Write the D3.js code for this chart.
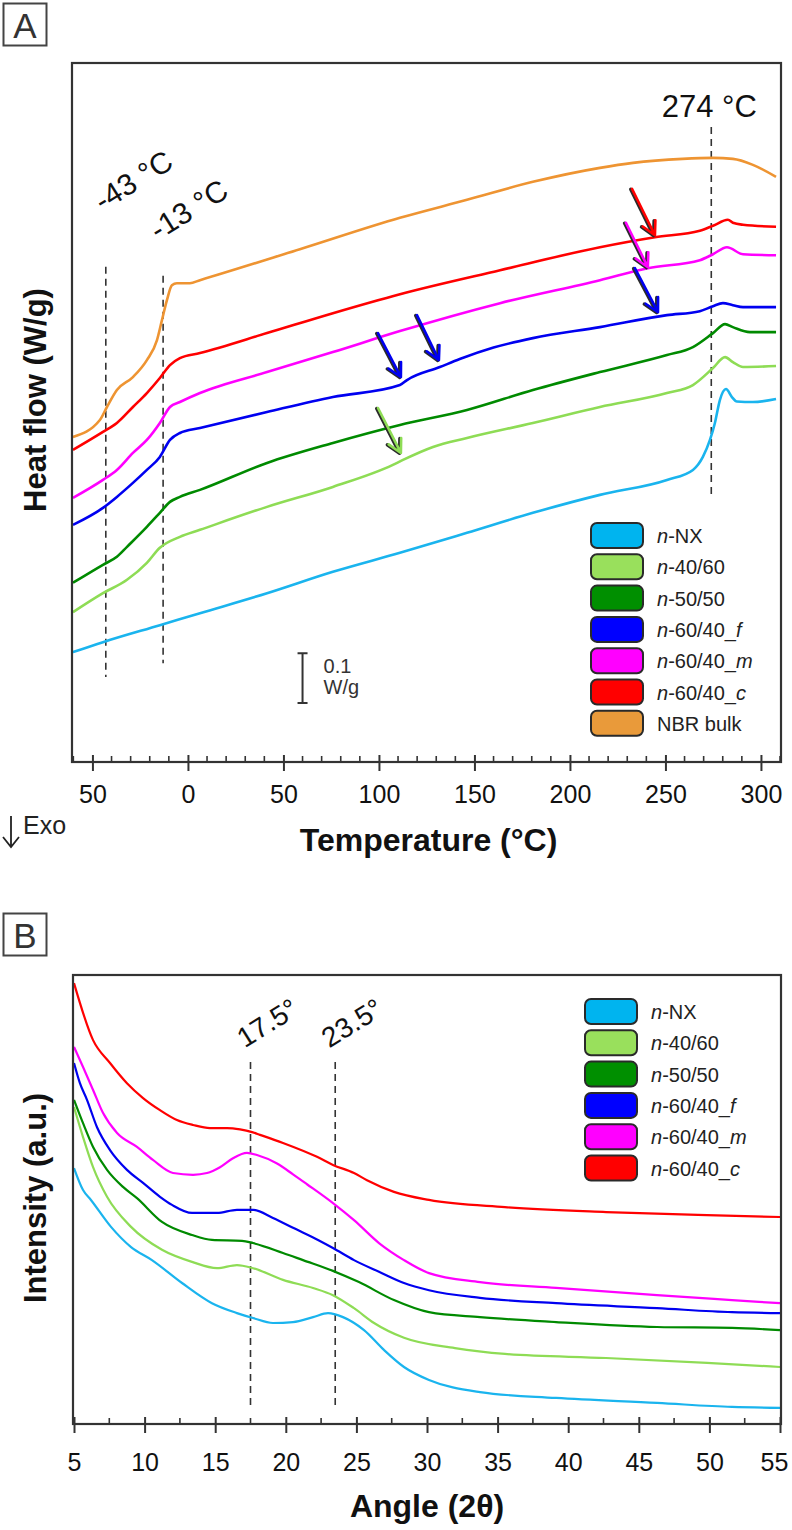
<!DOCTYPE html>
<html><head><meta charset="utf-8">
<script src="https://cdn.jsdelivr.net/npm/d3@7/dist/d3.min.js"></script>
<style>
body{margin:0;background:#fff}
svg{display:block}
text{font-family:"Liberation Sans",Arial,Helvetica,sans-serif}
</style>
</head><body>
<svg id="c" width="792" height="1530"></svg>
<script>
// ---------------- DATA ----------------
const seriesNamesA = ["n-NX","n-40/60","n-50/50","n-60/40_f","n-60/40_m","n-60/40_c","NBR bulk"];
const seriesNamesB = ["n-NX","n-40/60","n-50/50","n-60/40_f","n-60/40_m","n-60/40_c"];
const lineColors  = ["#1ab4ee","#8edc55","#008a00","#0000f0","#ff00ff","#ff0000","#ee9432"];
const swatchColors= ["#00b4ef","#99e05c","#008f00","#0000ff","#ff00ff","#ff0000","#e99a3a"];

// Panel A: DSC, [temperature °C, heat flow W/g (offset)]
const dscNX = [[-60.2,0.220],[-44.5,0.240],[-14.7,0.274],[6.3,0.298],[41.4,0.338],[75.9,0.381],[111,0.419],[146.1,0.459],[180.6,0.499],[215.7,0.535],[250.8,0.565],[264.4,0.585],[269.6,0.611],[273.3,0.645],[275.9,0.679],[278.5,0.725],[281.7,0.747],[284.8,0.731],[287.4,0.722],[295.8,0.721],[307.9,0.727]];
const dsc4060 = [[-60.2,0.300],[-44.5,0.338],[-31.9,0.365],[-21.5,0.399],[-14.7,0.429],[-4.2,0.451],[6.3,0.465],[41.4,0.511],[75.9,0.551],[107.3,0.595],[112.6,0.605],[128.3,0.631],[146.1,0.649],[180.6,0.679],[215.7,0.711],[250.8,0.739],[264.4,0.755],[274.9,0.789],[281.2,0.811],[285.3,0.801],[290.6,0.791],[307.9,0.793]];
const dsc5050 = [[-60.2,0.359],[-44.5,0.395],[-37.2,0.411],[-31.9,0.431],[-21.5,0.471],[-14.7,0.499],[-9.4,0.521],[-4.2,0.531],[6.3,0.545],[41.4,0.599],[75.9,0.639],[111,0.675],[146.1,0.705],[180.6,0.745],[215.7,0.781],[250.8,0.815],[264.4,0.831],[274.9,0.859],[281.2,0.877],[285.3,0.871],[294.2,0.861],[307.9,0.861]];
const dsc6040f = [[-60.2,0.475],[-44.5,0.509],[-37.2,0.531],[-28.8,0.559],[-21.5,0.585],[-14.7,0.611],[-9.4,0.645],[-4.2,0.659],[6.3,0.669],[41.4,0.701],[75.9,0.731],[111,0.755],[114.7,0.765],[131.9,0.791],[142.3,0.807],[160,0.830],[180.6,0.849],[215.7,0.871],[250.8,0.895],[268,0.903],[274.9,0.913],[280.1,0.919],[285.3,0.915],[290.6,0.911],[307.9,0.911]];
const dsc6040m = [[-60.2,0.529],[-44.5,0.565],[-37.2,0.585],[-28.8,0.619],[-21.5,0.645],[-14.7,0.679],[-9.4,0.711],[-4.2,0.721],[6.3,0.739],[41.4,0.781],[75.9,0.821],[111,0.863],[163.4,0.919],[215.7,0.965],[240.8,0.989],[268,1.005],[274.9,1.017],[282.2,1.031],[290.6,1.017],[307.9,1.015]];
const dsc6040c = [[-60.2,0.625],[-44.5,0.661],[-37.2,0.679],[-28.8,0.711],[-21.5,0.739],[-14.7,0.769],[-9.4,0.795],[-4.2,0.809],[6.3,0.819],[41.4,0.859],[75.9,0.899],[111,0.937],[163.4,0.985],[215.7,1.031],[244.5,1.051],[268,1.064],[274.9,1.074],[282.7,1.086],[285.3,1.080],[290.6,1.076],[307.9,1.072]];
const dscNBR = [[-60.2,0.651],[-46.1,0.685],[-42.4,0.711],[-37.2,0.745],[-28.8,0.771],[-21.5,0.805],[-16.2,0.845],[-13.6,0.885],[-11.0,0.925],[-8.4,0.955],[-5.8,0.959],[1.0,0.959],[6.3,0.965],[58.6,1.027],[111,1.090],[146.1,1.126],[180.6,1.162],[215.7,1.190],[233,1.200],[259,1.208],[274.9,1.210],[285.3,1.208],[295.8,1.196],[307.9,1.172]];
const dscSeries = [dscNX,dsc4060,dsc5050,dsc6040f,dsc6040m,dsc6040c,dscNBR];

const tempTicks  = [-50,0,50,100,150,200,250,300];
const tempLabels = ["50","0","50","100","150","200","250","300"];
const tempMinor  = [-60,-40,-30,-20,-10,10,20,30,40,60,70,80,90,110,120,130,140,160,170,180,190,210,220,230,240,260,270,280,290,310];
const dscMarkers = [-43,-13,274];
const dscMarkerLabels = ["-43 °C","-13 °C","274 °C"];
// arrows: [series index, from [T, W/g], to [T, W/g]]
const dscArrows = [
  [5,[232.5,1.148],[244.5,1.055]],
  [4,[229.3,1.080],[240.8,0.991]],
  [3,[234.0,0.989],[246.1,0.901]],
  [3,[99.5,0.859],[111.5,0.771]],
  [3,[119.9,0.895],[131.4,0.805]],
  [1,[99.5,0.709],[111.5,0.619]]
];
const scaleBarA = [0.118,0.218]; // 0.1 W/g
const scaleBarT = 60;

// Panel B: XRD, [2θ deg, intensity a.u.]
const xrdNX = [[5,57.0],[5.64,52.1],[6.2,49.9],[7.62,43.9],[9.04,39.4],[10.52,36.5],[12.65,31.4],[14.77,26.9],[16.54,24.7],[17.68,23.6],[19.09,22.5],[20.51,22.7],[21.93,23.8],[22.99,24.7],[24.05,23.8],[25.54,20.9],[26.95,16.5],[28.37,12.7],[30.14,9.8],[33.75,7.1],[39.14,5.8],[46.29,4.7],[51.6,3.8],[55,3.6]];
const xrd4060 = [[5,70.6],[5.64,63.9],[6.35,57.2],[7.34,50.6],[9.04,43.9],[11.23,38.8],[13.36,36.1],[15.13,34.7],[16.54,35.4],[17.68,34.7],[19.8,32.1],[21.93,30.3],[23.34,28.7],[24.83,25.8],[26.25,22.5],[28.37,19.2],[31.98,16.9],[35.52,15.6],[42.68,14.7],[49.83,13.6],[55,12.7]];
const xrd5050 = [[5,72.2],[5.64,67.0],[6.35,61.7],[7.34,56.6],[8.47,52.8],[9.46,50.3],[11.23,45.0],[13.36,42.1],[14.77,41.0],[16.9,40.8],[17.68,40.3],[19.8,38.1],[21.22,36.5],[23.34,34.1],[25.18,31.6],[27.66,27.6],[30.14,24.9],[33.75,23.8],[39.14,22.7],[46.29,21.6],[51.6,21.4],[55,20.9]];
const xrd6040f = [[5,80.4],[5.42,75.9],[5.92,72.2],[6.63,66.1],[7.55,61.0],[8.75,56.6],[9.89,53.7],[11.09,50.6],[11.94,48.8],[13.36,47.0],[15.13,47.0],[16.54,47.7],[17.68,47.7],[19.09,45.9],[20.51,43.7],[22.28,41.0],[23.34,39.2],[24.83,36.5],[26.6,33.9],[28.37,31.4],[30.14,29.8],[33.75,28.1],[39.14,26.9],[46.29,25.8],[51.6,24.9],[55,24.7]];
const xrd6040m = [[5,84.0],[5.64,79.5],[6.35,74.4],[7.05,69.3],[8.05,64.8],[9.46,61.7],[10.59,58.8],[12.01,55.9],[13.43,55.5],[14.42,55.9],[15.34,57.2],[16.26,59.2],[17.25,60.4],[17.96,59.9],[19.38,58.0],[20.51,55.6],[21.5,53.4],[23.34,49.2],[24.83,45.4],[26.6,40.3],[28.37,36.5],[30.14,33.6],[33.75,31.6],[39.14,30.3],[46.29,28.7],[51.6,27.6],[55,26.9]];
const xrd6040c = [[5,98.2],[6.35,85.5],[7.55,80.4],[8.75,75.9],[9.89,72.6],[11.09,69.9],[12.29,67.7],[13.43,66.6],[14.63,65.9],[15.84,65.9],[16.76,65.6],[17.61,65.0],[18.17,64.4],[19.8,62.6],[22.21,59.5],[23.34,57.7],[24.83,55.9],[25.75,54.3],[27.66,51.7],[30.14,49.9],[35.52,48.3],[42.68,47.2],[49.83,46.5],[55,46.1]];
const xrdSeries = [xrdNX,xrd4060,xrd5050,xrd6040f,xrd6040m,xrd6040c];

const angleTicks = [5,10,15,20,25,30,35,40,45,50,55];
const angleLabels = ["5","10","15","20","25","30","35","40","45","50","55"];
const angleMinor = [7.5,12.5,17.5,22.5,27.5,32.5,37.5,42.5,47.5,52.5];
const xrdMarkers = [17.5,23.5];
const xrdMarkerLabels = ["17.5°","23.5°"];

// ---------------- DRAW ----------------
const svg = d3.select("#c");
const INK = "#333";

function panelLabel(txt, x, y){
  svg.append("rect").attr("x",x).attr("y",y).attr("width",43).attr("height",42)
    .attr("fill","none").attr("stroke","#444").attr("stroke-width",2);
  svg.append("text").attr("x",x+21.5).attr("y",y+34).attr("text-anchor","middle")
    .attr("font-size",35).attr("fill","#333").text(txt);
}

function legend(names, x0, y0){
  const g = svg.append("g");
  names.forEach((n,i)=>{
    const y = y0 + i*31.3;
    g.append("rect").attr("x",x0).attr("y",y).attr("width",52).attr("height",25)
      .attr("rx",6).attr("fill",swatchColors[i]).attr("stroke","#2a2a2a").attr("stroke-width",2);
    const t = g.append("text").attr("x",x0+66).attr("y",y+20).attr("font-size",20).attr("fill","#222");
    if(n.startsWith("n-")){
      t.append("tspan").attr("font-style","italic").text("n");
      let rest = n.slice(1);
      const m = rest.match(/^(.*_)([a-z])$/);
      if(m){ t.append("tspan").text(m[1]); t.append("tspan").attr("font-style","italic").text(m[2]); }
      else t.append("tspan").text(rest);
    } else t.text(n);
  });
}

function bottomAxis(x, y0, ticks, labels, minor, pad){
  const ax = d3.axisBottom(x).tickValues(ticks).tickFormat((d,i)=>labels[i])
    .tickSizeInner(9).tickSizeOuter(0).tickPadding(pad);
  const g = svg.append("g").attr("transform",`translate(0,${y0})`).call(ax);
  g.select(".domain").remove();
  g.selectAll(".tick line").attr("stroke",INK).attr("stroke-width",2).attr("y1",-7);
  g.selectAll(".tick text").attr("font-size",25).attr("fill","#111")
    .style("font-family",'"Liberation Sans",Arial,sans-serif');
  g.selectAll(".minor").data(minor).join("line").attr("class","minor")
    .attr("x1",d=>x(d)).attr("x2",d=>x(d)).attr("y1",-6).attr("y2",0)
    .attr("stroke",INK).attr("stroke-width",1.6);
  return g;
}

// ===== Panel A =====
const A = {l:72, r:781, t:63, b:762};
const xA = d3.scaleLinear().domain([-60.7,310.5]).range([A.l,A.r]);
const yA = d3.scaleLinear().domain([0,1.4]).range([A.b,A.t]);
panelLabel("A",3.5,3.5);

// dashed markers
const markerTopA = [0.992, 0.974, 1.272];
const markerBotA = [0.170, 0.198, 0.530];
dscMarkers.forEach((m,i)=>{
  svg.append("line").attr("x1",xA(m)).attr("x2",xA(m))
    .attr("y1",yA(markerTopA[i])).attr("y2",yA(markerBotA[i]))
    .attr("stroke","#333").attr("stroke-width",1.6).attr("stroke-dasharray","7,5");
});
// marker labels
svg.append("text").attr("transform",`translate(${xA(-43)+33},${yA(1.147)}) rotate(-32)`)
  .attr("text-anchor","middle").attr("font-size",30).attr("fill","#111").text(dscMarkerLabels[0]);
svg.append("text").attr("transform",`translate(${xA(-13)+31},${yA(1.089)}) rotate(-32)`)
  .attr("text-anchor","middle").attr("font-size",30).attr("fill","#111").text(dscMarkerLabels[1]);
svg.append("text").attr("x",xA(274)-2).attr("y",yA(1.292)).attr("text-anchor","middle")
  .attr("font-size",31).attr("fill","#111").text(dscMarkerLabels[2]);

// curves
const lineA = d3.line().x(d=>xA(d[0])).y(d=>yA(d[1])).curve(d3.curveMonotoneX);
dscSeries.forEach((s,i)=>{
  svg.append("path").datum(s).attr("d",lineA).attr("fill","none")
    .attr("stroke",lineColors[i]).attr("stroke-width",2.6).attr("stroke-linejoin","round");
});

// arrows
function arrow(p0,p1,color){
  const dx=p1[0]-p0[0], dy=p1[1]-p0[1], L=Math.hypot(dx,dy);
  const ux=-dx/L, uy=-dy/L, a=28*Math.PI/180, h=15;
  const a1=[p1[0]+h*(ux*Math.cos(a)-uy*Math.sin(a)), p1[1]+h*(ux*Math.sin(a)+uy*Math.cos(a))];
  const a2=[p1[0]+h*(ux*Math.cos(-a)-uy*Math.sin(-a)), p1[1]+h*(ux*Math.sin(-a)+uy*Math.cos(-a))];
  const d=`M${p0[0]},${p0[1]}L${p1[0]},${p1[1]}M${a1[0]},${a1[1]}L${p1[0]},${p1[1]}L${a2[0]},${a2[1]}`;
  svg.append("path").attr("d",d).attr("transform","translate(-1.3,0.4)").attr("fill","none")
    .attr("stroke","#2b2b2b").attr("stroke-width",3.4).attr("stroke-linecap","round").attr("stroke-linejoin","round");
  svg.append("path").attr("d",d).attr("fill","none")
    .attr("stroke",color).attr("stroke-width",2.6).attr("stroke-linecap","round").attr("stroke-linejoin","round");
}
dscArrows.forEach(a=>arrow([xA(a[1][0]),yA(a[1][1])],[xA(a[2][0]),yA(a[2][1])],lineColors[a[0]]));

// scale bar
const sbx = xA(scaleBarT);
svg.append("path").attr("d",`M${sbx-5},${yA(scaleBarA[1])}H${sbx+5}M${sbx},${yA(scaleBarA[1])}V${yA(scaleBarA[0])}M${sbx-5},${yA(scaleBarA[0])}H${sbx+5}`)
  .attr("stroke","#333").attr("stroke-width",2).attr("fill","none");
svg.append("text").attr("x",sbx+21).attr("y",yA(scaleBarA[1])+20).attr("font-size",20).attr("fill","#333").text("0.1");
svg.append("text").attr("x",sbx+21).attr("y",yA(scaleBarA[1])+41).attr("font-size",20).attr("fill","#333").text("W/g");

legend(seriesNamesA, 591, 523);

svg.append("rect").attr("x",A.l).attr("y",A.t).attr("width",A.r-A.l).attr("height",A.b-A.t)
  .attr("fill","none").attr("stroke",INK).attr("stroke-width",2.2);
bottomAxis(xA, A.b, tempTicks, tempLabels, tempMinor, 14);

svg.append("text").attr("x",(A.l+A.r)/2+2).attr("y",851).attr("text-anchor","middle")
  .attr("font-size",32).attr("font-weight","bold").attr("fill","#111").text("Temperature (°C)");
svg.append("text").attr("transform",`translate(46,400) rotate(-90)`).attr("text-anchor","middle")
  .attr("font-size",31).attr("font-weight","bold").attr("fill","#111").text("Heat flow (W/g)");
// exo
svg.append("path").attr("d","M11,816V847M3,837L11,847L19,837").attr("stroke","#222").attr("stroke-width",1.8).attr("fill","none");
svg.append("text").attr("x",23).attr("y",834).attr("font-size",25).attr("fill","#222").text("Exo");

// ===== Panel B =====
const B = {l:73, r:781, t:975, b:1424};
const xB = d3.scaleLinear().domain([5,55]).range([74,780]);
const yB = d3.scaleLinear().domain([0,100]).range([B.b,B.t]);
panelLabel("B",3.5,913.5);

const markerTopB = 80.6, markerBotB = 4.2;
xrdMarkers.forEach(m=>{
  svg.append("line").attr("x1",xB(m)).attr("x2",xB(m)).attr("y1",yB(markerTopB)).attr("y2",yB(markerBotB))
    .attr("stroke","#333").attr("stroke-width",1.6).attr("stroke-dasharray","7,5");
});
xrdMarkers.forEach((m,i)=>{
  svg.append("text").attr("transform",`translate(${xB(m)+22},${yB(87.5)}) rotate(-32)`)
    .attr("text-anchor","middle").attr("font-size",28).attr("fill","#111").text(xrdMarkerLabels[i]);
});

const lineB = d3.line().x(d=>xB(d[0])).y(d=>yB(d[1])).curve(d3.curveMonotoneX);
xrdSeries.forEach((s,i)=>{
  svg.append("path").datum(s).attr("d",lineB).attr("fill","none")
    .attr("stroke",lineColors[i]).attr("stroke-width",2.2).attr("stroke-linejoin","round");
});

legend(seriesNamesB, 585, 999);

svg.append("rect").attr("x",B.l).attr("y",B.t).attr("width",B.r-B.l).attr("height",B.b-B.t)
  .attr("fill","none").attr("stroke",INK).attr("stroke-width",2.2);
const gB = bottomAxis(xB, B.b, angleTicks, angleLabels, angleMinor, 20);
gB.selectAll(".tick text").filter(d=>d===55).attr("dx",-6);

svg.append("text").attr("x",(B.l+B.r)/2).attr("y",1517).attr("text-anchor","middle")
  .attr("font-size",32).attr("font-weight","bold").attr("fill","#111").text("Angle (2θ)");
svg.append("text").attr("transform",`translate(46,1198) rotate(-90)`).attr("text-anchor","middle")
  .attr("font-size",31).attr("font-weight","bold").attr("fill","#111").text("Intensity (a.u.)");
</script>
</body></html>
